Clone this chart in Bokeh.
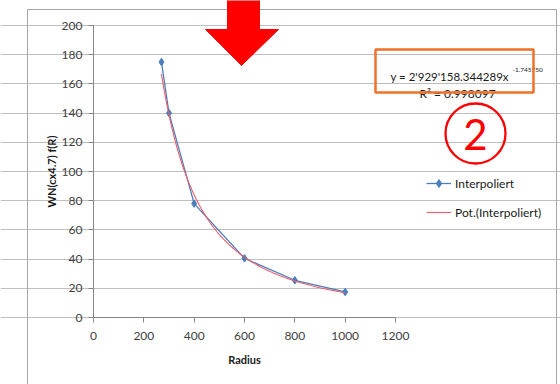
import numpy as np
from bokeh.plotting import figure
from bokeh.models import (Range1d, FixedTicker, BoxAnnotation, PolyAnnotation,
                          Label, Legend, LegendItem)
from bokeh.embed import file_html
from bokeh.resources import INLINE

# ---- data ----
radius = [270, 300, 400, 600, 800, 1000]
wn = [175, 140, 78, 40.5, 25.5, 17.5]
fit_a = 2929158.344289
fit_b = -1.745750
fit_eq_text = "y = 2'929'158.344289x"
fit_exp_text = "-1.745750"
r2_text = "R² = 0.998097"
x_ticks = [0, 200, 400, 600, 800, 1000, 1200]
y_ticks = [0, 20, 40, 60, 80, 100, 120, 140, 160, 180, 200]
series_names = ["Interpoliert", "Pot.(Interpoliert)"]
x_title = "Radius"
y_title = "WN(cx4.7) f(R)"
badge_text = "2"

FONT = "Lato"
BLUE = "#4A7EBB"
PINK = "#EE5B6B"

# plot area in the picture: x 0..1200 -> px 93..395, y 0..200 -> px 317..25
W, H = 560, 384
PX_L, PX_R, PX_T, PX_B = 93, 395, 25, 317
kx = (PX_R - PX_L) / 1200.0
ky = (PX_B - PX_T) / 200.0
x_rng = Range1d(0 - PX_L / kx, 1200 + (W - PX_R) / kx)
y_rng = Range1d(0 - (H - PX_B) / ky, 200 + PX_T / ky)

p = figure(width=W, height=H, output_backend="svg", toolbar_location=None,
           x_range=x_rng, y_range=y_rng, min_border=0)
p.min_border_left = p.min_border_right = p.min_border_top = p.min_border_bottom = 0
p.title.visible = False
p.outline_line_color = None
p.background_fill_color = "white"
p.border_fill_color = "white"

# axes at the data origin
p.xaxis.ticker = FixedTicker(ticks=x_ticks)
p.yaxis.ticker = FixedTicker(ticks=y_ticks)
p.xaxis.fixed_location = 0
p.yaxis.fixed_location = 0
p.xaxis.bounds = (0, 1200)
p.yaxis.bounds = (0, 200)
for ax in (p.xaxis[0], p.yaxis[0]):
    ax.axis_line_color = "#868686"
    ax.major_tick_line_color = "#868686"
    ax.major_tick_out = 5
    ax.major_tick_in = 0
    ax.minor_tick_line_color = None
    ax.major_label_text_font = FONT
    ax.major_label_text_font_size = "12px"
    ax.major_label_text_color = "#404040"
    ax.axis_label_text_font = FONT
    ax.axis_label_text_font_size = "11px"
    ax.axis_label_text_font_style = "bold"
    ax.axis_label_text_color = "#1A1A1A"
p.xaxis.axis_label = x_title
p.yaxis.axis_label = y_title
p.xaxis.major_label_standoff = 9
p.yaxis.major_label_standoff = 6
p.xaxis.axis_label_standoff = 10
p.yaxis.axis_label_standoff = 1

p.xgrid.grid_line_color = None
p.ygrid.ticker = FixedTicker(ticks=y_ticks)
p.ygrid.bounds = (0, 1200)
p.ygrid.grid_line_color = "#BEBEBE"
p.ygrid.grid_line_width = 1

# trend line from the stated fit
xs_fit = np.linspace(min(radius), max(radius), 200)
ys_fit = fit_a * xs_fit ** fit_b

r_blue = p.line(radius, wn, line_color=BLUE, line_width=1.3)
r_mark = p.scatter(radius, wn, marker="diamond", size=7.5, fill_color=BLUE, line_color=BLUE)
r_fit = p.line(xs_fit, ys_fit, line_color=PINK, line_width=1.1)

legend = Legend(items=[LegendItem(label=series_names[0], renderers=[r_blue, r_mark]),
                       LegendItem(label=series_names[1], renderers=[r_fit])],
                location=(426, H - 222), orientation="vertical",
                border_line_color=None, background_fill_alpha=0,
                padding=0, margin=0, spacing=9,
                glyph_width=25, glyph_height=20, label_height=20,
                label_standoff=4,
                label_text_font=FONT, label_text_font_size="12px",
                label_text_color="#1A1A1A")
p.add_layout(legend)

# chart border
p.add_layout(BoxAnnotation(left=27, right=556, top=9, bottom=420,
                           left_units="canvas", right_units="canvas",
                           top_units="canvas", bottom_units="canvas",
                           fill_alpha=0, line_color="#A6A6A6", line_alpha=1,
                           line_width=1, level="underlay"))

# red arrow
p.add_layout(PolyAnnotation(xs=[227, 259, 259, 278, 241, 205, 227],
                            ys=[-2, -2, 29, 29, 65, 29, 29],
                            xs_units="canvas", ys_units="canvas",
                            fill_color="#FF0000", fill_alpha=1,
                            line_color="#FF0000", line_alpha=1, line_width=1))

# equation texts
p.add_layout(Label(x=390, y=76, x_units="canvas", y_units="canvas", text=fit_eq_text,
                   text_font=FONT, text_font_size="11.5px", text_color="#1A1A1A",
                   text_baseline="alphabetic"))
p.add_layout(Label(x=512, y=69, x_units="canvas", y_units="canvas", text=fit_exp_text,
                   text_font=FONT, text_font_size="6.5px", text_color="#1A1A1A",
                   text_baseline="alphabetic"))
p.add_layout(Label(x=457, y=93, x_units="canvas", y_units="canvas", text=r2_text,
                   text_font=FONT, text_font_size="12px", text_color="#1A1A1A",
                   text_align="center", text_baseline="alphabetic"))
# orange box
p.add_layout(BoxAnnotation(left=375, right=533, top=49, bottom=92,
                           left_units="canvas", right_units="canvas",
                           top_units="canvas", bottom_units="canvas",
                           fill_alpha=0, line_color="#F07028", line_alpha=1,
                           line_width=2.5))

# circled 2
p.add_layout(BoxAnnotation(left=445, right=505, top=103, bottom=163,
                           left_units="canvas", right_units="canvas",
                           top_units="canvas", bottom_units="canvas",
                           border_radius=30,
                           fill_alpha=0, line_color="#FF0000", line_alpha=1,
                           line_width=2.3))
p.add_layout(Label(x=475, y=134, x_units="canvas", y_units="canvas", text=badge_text,
                   text_font=FONT, text_font_size="42px", text_color="#FF0000",
                   text_align="center", text_baseline="middle"))

open("out.html", "w").write(file_html(p, INLINE))
